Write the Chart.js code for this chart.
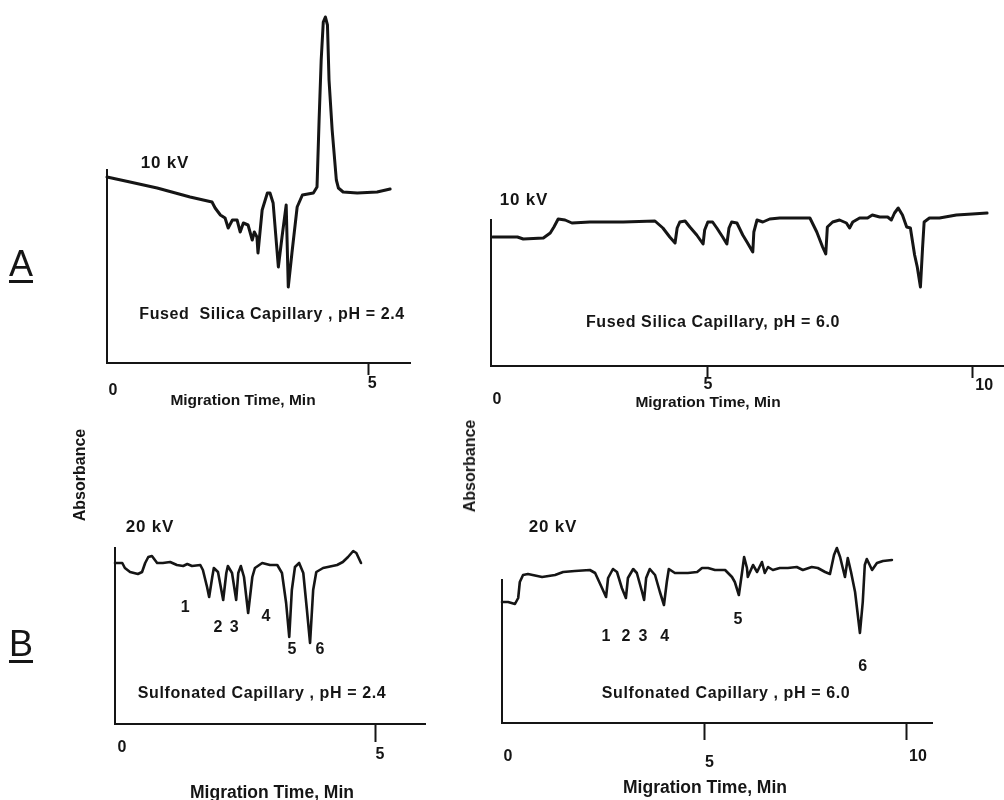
<!DOCTYPE html>
<html>
<head>
<meta charset="utf-8">
<script src="https://cdn.jsdelivr.net/npm/chart.js@4.4.1/dist/chart.umd.min.js"></script>
<style>
  body { margin: 0; background: #fff; }
  #page { position: relative; width: 1004px; height: 800px; overflow: hidden;
          font-family: "Liberation Sans", Arial, sans-serif; font-weight: bold; color: #151515; }
  canvas { position: absolute; left: 0; top: 0; }
  .t { position: absolute; white-space: nowrap; transform: translate(-50%, -50%); }
  .kv { font-size: 17px; letter-spacing: 0.8px; }
  .cap { font-size: 16px; letter-spacing: 0.6px; }
  .mtA { font-size: 15.5px; }
  .mtB { font-size: 17.5px; }
  .abs { font-size: 16px; transform: translate(-50%, -50%) rotate(-90deg); }
  .part { font-size: 36px; font-weight: normal; text-decoration: underline;
          text-decoration-thickness: 3px; text-underline-offset: 4px; }
</style>
</head>
<body>
<div id="page">
  <canvas id="fsAcid" width="1004" height="800"></canvas>
  <canvas id="fsNeutral" width="1004" height="800"></canvas>
  <canvas id="sulfAcid" width="1004" height="800"></canvas>
  <canvas id="sulfNeutral" width="1004" height="800"></canvas>

  <div class="t part" style="left:21px; top:264px;">A</div>
  <div class="t part" style="left:21px; top:644px;">B</div>
  <div class="t abs" style="left:80px; top:475px;">Absorbance</div>
  <div class="t abs" style="left:470px; top:466px;">Absorbance</div>

  <div class="t kv" style="left:165px; top:163px;">10 kV</div>
  <div class="t cap" style="left:272px; top:314px;">Fused&nbsp; Silica Capillary , pH = 2.4</div>
  <div class="t mtA" style="left:243px; top:400px;">Migration Time, Min</div>

  <div class="t kv" style="left:524px; top:200px;">10 kV</div>
  <div class="t cap" style="left:713px; top:322px;">Fused Silica Capillary, pH = 6.0</div>
  <div class="t mtA" style="left:708px; top:402px;">Migration Time, Min</div>

  <div class="t kv" style="left:150px; top:527px;">20 kV</div>
  <div class="t cap" style="left:262px; top:693px;">Sulfonated Capillary , pH = 2.4</div>
  <div class="t mtB" style="left:272px; top:792px;">Migration Time, Min</div>

  <div class="t kv" style="left:553px; top:527px;">20 kV</div>
  <div class="t cap" style="left:726px; top:693px;">Sulfonated Capillary , pH = 6.0</div>
  <div class="t mtB" style="left:705px; top:787px;">Migration Time, Min</div>
</div>

<script>
// A, left: fused silica capillary, pH 2.4, 10 kV
const fsAcidTime = [0, 0.44, 0.96, 1.59, 2.01, 2.07, 2.17, 2.26, 2.32, 2.40,
  2.49, 2.55, 2.61, 2.70, 2.78, 2.82, 2.87, 2.89, 2.97, 3.07,
  3.12, 3.18, 3.28, 3.35, 3.43, 3.47, 3.54, 3.64, 3.74, 3.95,
  4.02, 4.06, 4.10, 4.14, 4.18, 4.22, 4.25, 4.31, 4.39, 4.43,
  4.52, 4.79, 5.17, 5.42];
const fsAcidAbs = [18.6, 18.1, 17.5, 16.6, 16.1, 15.5, 14.8, 14.5, 13.5, 14.3,
  14.3, 13.1, 14.0, 13.8, 12.3, 13.1, 12.6, 11.0, 15.3, 17.0,
  17.0, 16.0, 9.6, 12.6, 15.8, 7.6, 11.0, 15.6, 16.8, 17.0,
  17.6, 24.3, 30.3, 34.1, 34.6, 33.8, 28.3, 23.3, 18.3, 17.5,
  17.1, 17.0, 17.1, 17.4];
const fsAcidTicks = [0, 5];
const fsAcidTickText = ["0", "5"];

// A, right: fused silica capillary, pH 6.0, 10 kV
const fsNeutralTime = [0.93, 1.40, 1.51, 1.89, 2.02, 2.09, 2.17, 2.30, 2.43, 2.77,
  3.40, 4.00, 4.15, 4.28, 4.38, 4.42, 4.47, 4.57, 4.66, 4.79,
  4.91, 4.94, 5.00, 5.09, 5.17, 5.28, 5.36, 5.40, 5.45, 5.55,
  5.66, 5.74, 5.85, 5.87, 5.93, 6.04, 6.17, 6.36, 6.93, 7.06,
  7.17, 7.23, 7.26, 7.36, 7.49, 7.62, 7.68, 7.74, 7.87, 8.02,
  8.11, 8.25, 8.40, 8.47, 8.53, 8.60, 8.68, 8.76, 8.83, 8.91,
  8.96, 9.02, 9.06, 9.09, 9.19, 9.38, 9.70, 10.00, 10.28];
const fsNeutralAbs = [12.9, 12.9, 12.7, 12.8, 13.3, 13.9, 14.7, 14.6, 14.3, 14.4,
  14.4, 14.5, 13.8, 12.9, 12.3, 13.8, 14.4, 14.5, 13.9, 13.1,
  12.2, 13.6, 14.4, 14.4, 13.8, 12.9, 12.2, 13.8, 14.4, 14.3,
  13.1, 12.4, 11.4, 13.4, 14.6, 14.4, 14.7, 14.8, 14.8, 13.4,
  11.9, 11.2, 13.9, 14.4, 14.6, 14.3, 13.8, 14.4, 14.8, 14.8,
  15.1, 14.9, 14.9, 14.6, 15.3, 15.8, 15.1, 13.9, 13.8, 11.1,
  9.9, 7.9, 11.8, 14.4, 14.8, 14.8, 15.1, 15.2, 15.3];
const fsNeutralTicks = [0.9, 5, 10];
const fsNeutralTickText = ["0", "5", "10"];

// B, left: sulfonated capillary, pH 2.4, 20 kV
const sulfAcidTime = [0, 0.14, 0.19, 0.29, 0.44, 0.52, 0.58, 0.64, 0.71, 0.81,
  0.92, 1.06, 1.19, 1.31, 1.39, 1.48, 1.64, 1.69, 1.77, 1.81,
  1.87, 1.90, 1.98, 2.08, 2.14, 2.17, 2.25, 2.33, 2.37, 2.42,
  2.48, 2.56, 2.64, 2.69, 2.83, 2.98, 3.12, 3.21, 3.29, 3.35,
  3.40, 3.46, 3.54, 3.62, 3.69, 3.75, 3.81, 3.87, 4.00, 4.27,
  4.38, 4.48, 4.58, 4.64, 4.73];
const sulfAcidAbs = [16.1, 16.1, 15.6, 15.2, 15.0, 15.2, 16.1, 16.7, 16.8, 16.1,
  16.1, 16.2, 15.9, 15.8, 16.0, 15.8, 15.9, 15.4, 13.7, 12.7,
  14.7, 15.6, 15.2, 12.4, 15.1, 15.8, 15.1, 12.4, 15.1, 15.8,
  14.7, 11.1, 14.7, 15.6, 16.1, 15.9, 15.9, 15.1, 12.1, 8.7,
  13.4, 15.7, 16.1, 15.1, 11.4, 8.1, 13.4, 15.2, 15.6, 15.9,
  16.2, 16.7, 17.3, 17.1, 16.1];
const sulfAcidTicks = [0, 5];
const sulfAcidTickText = ["0", "5"];
const sulfAcidPeaks = ["1", "2", "3", "4", "5", "6"];
const sulfAcidPeakTime = [1.35, 1.98, 2.29, 2.90, 3.40, 3.94];
const sulfAcidPeakAbs = [11.6, 9.6, 9.6, 10.7, 7.4, 7.4];

// B, right: sulfonated capillary, pH 6.0, 20 kV
const sulfNeutralTime = [0, 0.15, 0.32, 0.40, 0.44, 0.52, 0.64, 0.99, 1.31, 1.51,
  1.80, 2.17, 2.30, 2.47, 2.57, 2.62, 2.74, 2.84, 2.96, 3.06,
  3.11, 3.24, 3.33, 3.46, 3.51, 3.56, 3.65, 3.78, 3.90, 4.00,
  4.07, 4.12, 4.27, 4.59, 4.82, 4.94, 5.09, 5.26, 5.51, 5.68,
  5.75, 5.85, 5.93, 5.98, 6.05, 6.07, 6.20, 6.30, 6.42, 6.49,
  6.57, 6.69, 6.86, 7.06, 7.28, 7.43, 7.65, 7.80, 7.98, 8.10,
  8.20, 8.27, 8.35, 8.47, 8.54, 8.62, 8.72, 8.84, 8.91, 8.96,
  9.01, 9.14, 9.26, 9.41, 9.63];
const sulfNeutralAbs = [12.1, 12.1, 11.9, 12.5, 14.1, 14.8, 14.9, 14.6, 14.8, 15.1,
  15.2, 15.3, 15.0, 13.5, 12.6, 14.5, 15.4, 15.1, 13.5, 12.5,
  14.5, 15.4, 15.0, 13.1, 12.3, 14.5, 15.4, 14.8, 13.1, 11.8,
  14.1, 15.4, 15.0, 15.0, 15.1, 15.5, 15.5, 15.3, 15.3, 14.6,
  14.1, 12.8, 15.1, 16.6, 15.5, 14.6, 15.8, 15.1, 16.1, 15.0,
  15.6, 15.3, 15.5, 15.5, 15.6, 15.3, 15.6, 15.5, 15.1, 14.9,
  16.8, 17.5, 16.6, 14.6, 16.5, 15.1, 13.1, 9.0, 12.1, 15.8,
  16.4, 15.3, 16.0, 16.2, 16.3];
const sulfNeutralTicks = [0, 5, 10];
const sulfNeutralTickText = ["0", "5", "10"];
const sulfNeutralPeaks = ["1", "2", "3", "4", "5", "6"];
const sulfNeutralPeakTime = [2.57, 3.06, 3.48, 4.02, 5.83, 8.91];
const sulfNeutralPeakAbs = [8.6, 8.6, 8.6, 8.6, 10.3, 5.6];

const INK = "#151515";

// where each plot box sits on the page (pixels)
const panels = [
  { id: "fsAcid", time: fsAcidTime, abs: fsAcidAbs, ticks: fsAcidTicks, tickText: fsAcidTickText,
    xMin: 0, xMax: 5.8, yMax: 19.3, lineWidth: 3,
    box: { left: 107, top: 170, right: 410, bottom: 363 }, tickLen: 12,
    tickDx: [6, 4], tickDy: [28, 21] },
  { id: "fsNeutral", time: fsNeutralTime, abs: fsNeutralAbs, ticks: fsNeutralTicks, tickText: fsNeutralTickText,
    xMin: 0.9, xMax: 10.6, yMax: 14.6, lineWidth: 3,
    box: { left: 491, top: 220, right: 1004, bottom: 366 }, tickLen: 12,
    tickDx: [6, 0, 12], tickDy: [34, 19, 20] },
  { id: "sulfAcid", time: sulfAcidTime, abs: sulfAcidAbs, ticks: sulfAcidTicks, tickText: sulfAcidTickText,
    xMin: 0, xMax: 5.96, yMax: 17.6, lineWidth: 2.6,
    box: { left: 115, top: 548, right: 425, bottom: 724 }, tickLen: 18,
    tickDx: [7, 5], tickDy: [24, 31],
    peaks: sulfAcidPeaks, peakTime: sulfAcidPeakTime, peakAbs: sulfAcidPeakAbs },
  { id: "sulfNeutral", time: sulfNeutralTime, abs: sulfNeutralAbs, ticks: sulfNeutralTicks, tickText: sulfNeutralTickText,
    xMin: 0, xMax: 10.62, yMax: 14.3, lineWidth: 2.6,
    box: { left: 502, top: 580, right: 932, bottom: 723 }, tickLen: 17,
    tickDx: [6, 5, 11], tickDy: [34, 40, 34],
    peaks: sulfNeutralPeaks, peakTime: sulfNeutralPeakTime, peakAbs: sulfNeutralPeakAbs }
];

function makePanel(p) {
  const labels = {
    id: "panelLabels",
    afterDraw(chart) {
      const { ctx, chartArea } = chart;
      const x = chart.scales.x, y = chart.scales.y;
      ctx.save();
      ctx.fillStyle = INK;
      ctx.textAlign = "center";
      ctx.textBaseline = "middle";
      ctx.font = "bold 16px 'Liberation Sans', Arial, sans-serif";
      p.ticks.forEach((v, i) => {
        ctx.fillText(p.tickText[i], x.getPixelForValue(v) + p.tickDx[i], chartArea.bottom + p.tickDy[i]);
      });
      if (p.peaks) {
        p.peaks.forEach((s, i) => {
          ctx.fillText(s, x.getPixelForValue(p.peakTime[i]), y.getPixelForValue(p.peakAbs[i]));
        });
      }
      ctx.restore();
    }
  };

  new Chart(document.getElementById(p.id), {
    type: "line",
    data: {
      datasets: [{
        data: p.time.map((t, i) => ({ x: t, y: p.abs[i] })),
        borderColor: INK,
        borderWidth: p.lineWidth,
        borderJoinStyle: "round",
        borderCapStyle: "round",
        pointRadius: 0,
        tension: 0,
        fill: false,
        clip: false
      }]
    },
    options: {
      responsive: false,
      animation: false,
      devicePixelRatio: 1,
      events: [],
      layout: {
        padding: {
          left: p.box.left,
          top: p.box.top,
          right: 1004 - p.box.right,
          bottom: 800 - p.box.bottom - p.tickLen
        }
      },
      plugins: { legend: { display: false }, tooltip: { enabled: false } },
      scales: {
        x: {
          type: "linear",
          min: p.xMin,
          max: p.xMax,
          afterBuildTicks: (scale) => { scale.ticks = p.ticks.map(v => ({ value: v })); },
          ticks: { display: false },
          grid: {
            display: true,
            drawOnChartArea: false,
            drawTicks: true,
            tickLength: p.tickLen,
            tickWidth: 2,
            tickColor: (c) => (c.index === 0 ? "rgba(0,0,0,0)" : INK)
          },
          border: { display: true, color: INK, width: 2 }
        },
        y: {
          min: 0,
          max: p.yMax,
          ticks: { display: false },
          grid: { display: false, drawTicks: false },
          border: { display: true, color: INK, width: 2 }
        }
      }
    },
    plugins: [labels]
  });
}

document.addEventListener("DOMContentLoaded", () => {
  panels.forEach(makePanel);
});
</script>
</body>
</html>
